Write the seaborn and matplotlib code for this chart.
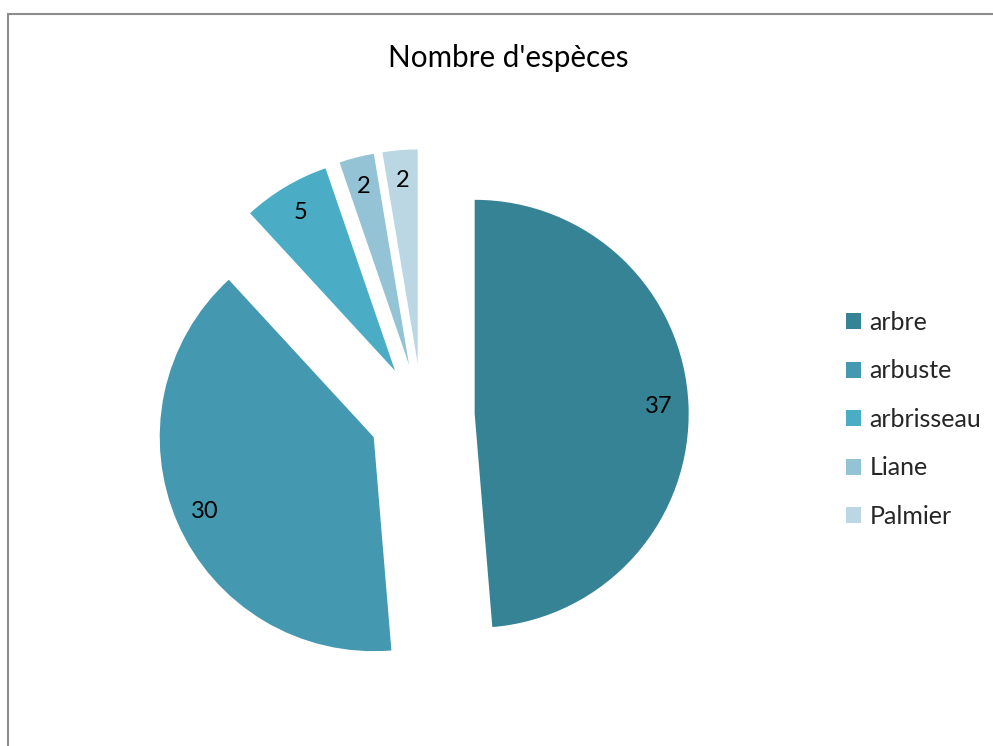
import matplotlib
matplotlib.use("Agg")
import matplotlib.pyplot as plt
from matplotlib.patches import Rectangle
import seaborn as sns

categories = ["arbre", "arbuste", "arbrisseau", "Liane", "Palmier"]
counts = [37, 30, 5, 2, 2]
colors = ["#378396", "#4499B0", "#4BACC6", "#93C3D4", "#BAD7E3"]
title = "Nombre d'espèces"

sns.set_theme(style="white")
plt.rcParams["font.family"] = ["Lato", "DejaVu Sans"]

W, H = 993, 746
fig = plt.figure(figsize=(W / 100, H / 100), dpi=100)
ax = fig.add_axes([0, 0, 1, 1])

# every slice pulled out by the same distance (data units = pixels here)
wedges, texts, autotexts = ax.pie(
    counts,
    colors=colors,
    startangle=90,
    counterclock=False,
    explode=[52.7] * len(counts),
    center=(422, H - 416),
    radius=214,
    autopct=lambda p: f"{round(p * sum(counts) / 100):d}",
    pctdistance=0.86,
    wedgeprops=dict(linewidth=0),
    textprops=dict(fontsize=17, color="black"),
    frame=False,
)
ax.set_xlim(0, W)
ax.set_ylim(0, H)
ax.set_aspect("equal")
ax.axis("off")

fig.text(508 / W, 1 - 58 / H, title, ha="center", va="center",
         fontsize=21.3, color="black")

fig.legend(
    wedges, categories,
    loc="upper left", bbox_to_anchor=(846 / W, 1 - 311 / H),
    frameon=False, fontsize=18,
    handlelength=0.6, handleheight=0.6, handletextpad=0.35,
    labelspacing=1.02, borderaxespad=0, borderpad=0,
)

# outer chart frame
fig.patches.append(Rectangle((8 / W, -0.1), 1.2, 1.1 - 14 / H,
                             transform=fig.transFigure, fill=False,
                             edgecolor="#8C8C8C", linewidth=1.5))

fig.savefig("out.png", dpi=100)
